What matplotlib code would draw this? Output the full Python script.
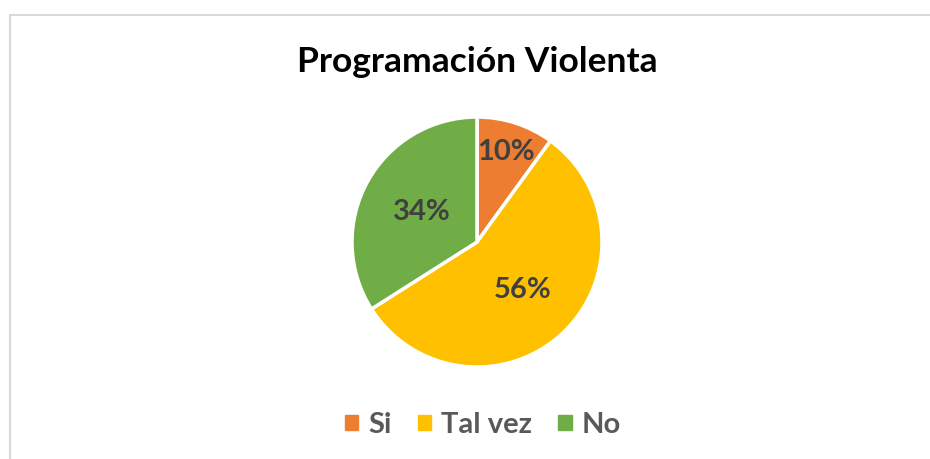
import numpy as np
import matplotlib.pyplot as plt
from matplotlib.patches import Rectangle

plt.rcParams['font.family'] = ['Lato', 'DejaVu Sans']

title = 'Programación Violenta'
labels = ['Si', 'Tal vez', 'No']
values = [10, 56, 34]
colors = ['#ED7D31', '#FFC000', '#70AD47']
label_dist = [0.76, 0.53, 0.5]

fig = plt.figure(figsize=(9.3, 4.59), dpi=100)
ax = fig.add_axes([0, 0, 1, 1])
ax.set_xlim(0, 930)
ax.set_ylim(0, 459)
ax.set_aspect('equal')
ax.axis('off')

# chart frame (only top and left edges visible)
ax.add_patch(Rectangle((9.5, -20), 940, 459 - 15 + 20, fill=False,
                       edgecolor='#D9D9D9', linewidth=1.5))

cx, cy, r = 477, 459 - 242, 125
wedges, _ = ax.pie(values, colors=colors, startangle=90, counterclock=False,
                   center=(cx, cy), radius=r,
                   wedgeprops=dict(edgecolor='white', linewidth=2.5))
ax.set_xlim(0, 930)
ax.set_ylim(0, 459)

for w, v, d in zip(wedges, values, label_dist):
    ang = np.deg2rad((w.theta1 + w.theta2) / 2)
    ax.text(cx + d * r * np.cos(ang), cy + d * r * np.sin(ang), f'{v}%',
            ha='center', va='center', fontsize=21, fontweight='bold',
            color='#404040')

ax.text(477, 459 - 62, title, ha='center', va='center', fontsize=25.5,
        fontweight='bold', color='black')

handles = [Rectangle((0, 0), 1, 1, color=c) for c in colors]
leg = ax.legend(handles, labels, loc='center', bbox_to_anchor=(483 / 930, 1 - 425 / 459),
                ncol=3, frameon=False, handlelength=0.45, handleheight=0.45,
                handletextpad=0.35, columnspacing=0.9,
                prop=dict(size=21, weight='bold'))
for t in leg.get_texts():
    t.set_color('#595959')

fig.savefig('out.png', dpi=100)
